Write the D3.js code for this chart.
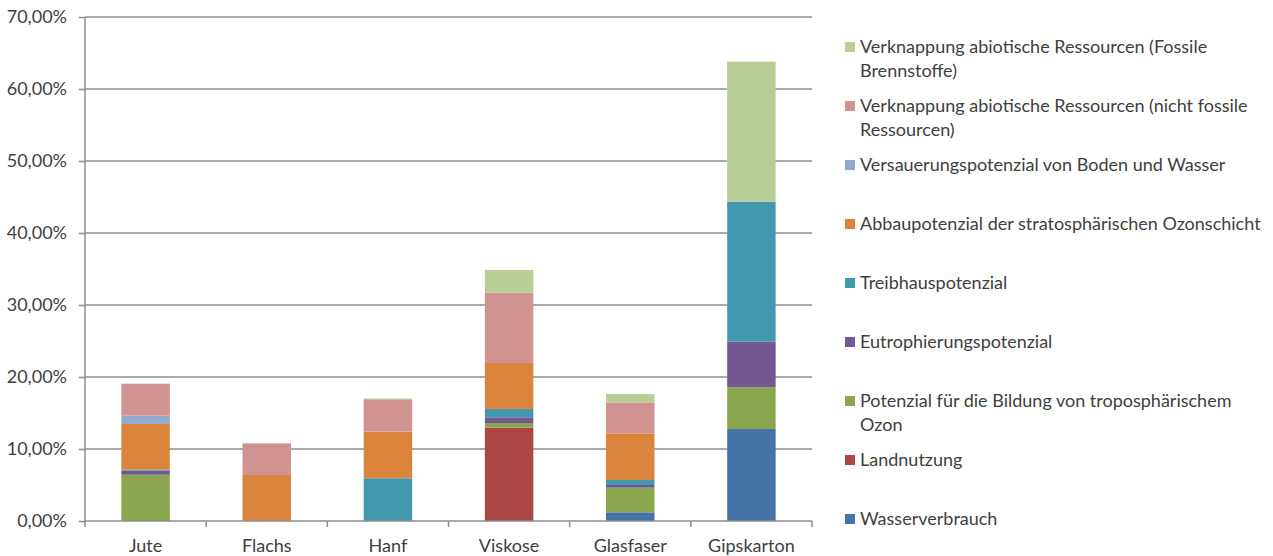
<!DOCTYPE html>
<html>
<head>
<meta charset="utf-8">
<script src="https://cdn.jsdelivr.net/npm/d3@7"></script>
<style>
  html, body { margin: 0; padding: 0; background: #fff; }
  svg { display: block; font-family: Lato, "Open Sans", sans-serif; }
</style>
</head>
<body>
<svg id="chart" width="1273" height="556"></svg>
<script>
// Materials on the x axis
const categories = ["Jute", "Flachs", "Hanf", "Viskose", "Glasfaser", "Gipskarton"];

// Impact categories, stacked from bottom to top (values in %)
const seriesNames = [
  "Wasserverbrauch",
  "Landnutzung",
  "Potenzial für die Bildung von troposphärischem Ozon",
  "Eutrophierungspotenzial",
  "Treibhauspotenzial",
  "Abbaupotenzial der stratosphärischen Ozonschicht",
  "Versauerungspotenzial von Boden und Wasser",
  "Verknappung abiotische Ressourcen (nicht fossile Ressourcen)",
  "Verknappung abiotische Ressourcen (Fossile Brennstoffe)"
];
const seriesColors = ["#4572A7", "#AA4643", "#89A54E", "#71588F", "#4198AF", "#DB843D", "#93A9CF", "#D19392", "#B9CD96"];

const wasserverbrauch = [0,    0,    0,    0,     1.20,  12.78];
const landnutzung     = [0,    0,    0,    12.96, 0,     0];
const ozonBildung     = [6.43, 0,    0,    0.65,  3.43,  5.78];
const eutrophierung   = [0.55, 0,    0,    0.79,  0.37,  6.35];
const treibhaus       = [0.15, 0,    5.93, 1.16,  0.69,  19.44];
const ozonAbbau       = [6.35, 6.39, 6.48, 6.39,  6.48,  0];
const versauerung     = [1.15, 0,    0,    0,     0,     0];
const nichtFossil     = [4.44, 4.39, 4.50, 9.77,  4.30,  0];
const fossil          = [0,    0.05, 0.10, 3.15,  1.16,  19.45];

const seriesValues = [wasserverbrauch, landnutzung, ozonBildung, eutrophierung, treibhaus,
                      ozonAbbau, versauerung, nichtFossil, fossil];

const yTicks = [0, 10, 20, 30, 40, 50, 60, 70];

const svg = d3.select("#chart");
const margin = { left: 85, right: 461, top: 17, bottom: 35 };
const W = 1273, H = 556;
const plotW = W - margin.left - margin.right;
const plotH = H - margin.top - margin.bottom;
const fontSize = "18px";

const x = d3.scaleBand().domain(categories).range([margin.left, margin.left + plotW]).paddingInner(0.6).paddingOuter(0.3);
const xEdges = d3.scaleBand().domain(categories).range([margin.left, margin.left + plotW]).padding(0);
const y = d3.scaleLinear().domain([0, 70]).range([margin.top + plotH, margin.top]);

const gridColor = "#8E8E8E";
const textColor = "#404040";

// Horizontal gridlines
svg.append("g").selectAll("line").data(yTicks.filter(d => d > 0)).join("line")
  .attr("x1", margin.left).attr("x2", margin.left + plotW)
  .attr("y1", d => y(d)).attr("y2", d => y(d))
  .attr("stroke", gridColor).attr("stroke-width", 1.5);

// Stacked data
const table = categories.map((c, i) => {
  const row = { category: c };
  seriesNames.forEach((s, k) => row[s] = seriesValues[k][i]);
  return row;
});
const stacked = d3.stack().keys(seriesNames)(table);

svg.append("g").selectAll("g").data(stacked).join("g")
  .attr("fill", (d, i) => seriesColors[i])
  .selectAll("rect").data(d => d).join("rect")
  .attr("x", d => x(d.data.category))
  .attr("width", x.bandwidth())
  .attr("y", d => y(d[1]))
  .attr("height", d => Math.max(0, y(d[0]) - y(d[1])));

// Y axis
const yAxis = d3.axisLeft(y).tickValues(yTicks).tickSize(6).tickPadding(12)
  .tickFormat(d => d3.format(".2f")(d).replace(".", ",") + "%");
const gy = svg.append("g").attr("transform", `translate(${margin.left},0)`).call(yAxis);
gy.select(".domain").attr("stroke", gridColor).attr("stroke-width", 1.5).attr("d", `M0,${y(0)}V${y(70)}`);
gy.selectAll(".tick line").attr("stroke", gridColor).attr("stroke-width", 1.5);
gy.selectAll(".tick text").attr("fill", textColor).style("font-size", fontSize).style("font-family", "Lato, sans-serif");

// X axis with tick marks at category boundaries
const gx = svg.append("g").attr("transform", `translate(0,${y(0)})`);
gx.append("line").attr("x1", margin.left).attr("x2", margin.left + plotW)
  .attr("stroke", gridColor).attr("stroke-width", 1.5);
const edges = categories.map(c => xEdges(c)).concat([margin.left + plotW]);
gx.selectAll("line.edge").data(edges).join("line").attr("class", "edge")
  .attr("x1", d => d).attr("x2", d => d).attr("y1", 0).attr("y2", 6)
  .attr("stroke", gridColor).attr("stroke-width", 1.5);
gx.selectAll("text").data(categories).join("text")
  .attr("x", d => x(d) + x.bandwidth() / 2).attr("y", 31)
  .attr("text-anchor", "middle").attr("fill", textColor)
  .style("font-size", fontSize).text(d => d);

// Legend, top entry is the top stack segment
const legendX = 845, legendY0 = 47, legendStep = 59, lineH = 24, maxTextW = 410;
const legend = svg.append("g");
const order = d3.range(seriesNames.length).reverse();
order.forEach((k, j) => {
  const g = legend.append("g").attr("transform", `translate(${legendX},${legendY0 + j * legendStep})`);
  g.append("rect").attr("x", 0).attr("y", -5).attr("width", 10).attr("height", 10).attr("fill", seriesColors[k]);
  const t = g.append("text").attr("x", 15).attr("y", 6).attr("fill", textColor).style("font-size", fontSize);
  // word wrap
  const words = seriesNames[k].split(" ");
  let line = [];
  let tspan = t.append("tspan").attr("x", 15).attr("dy", 0);
  words.forEach(w => {
    line.push(w);
    tspan.text(line.join(" "));
    if (tspan.node().getComputedTextLength() > maxTextW && line.length > 1) {
      line.pop();
      tspan.text(line.join(" "));
      line = [w];
      tspan = t.append("tspan").attr("x", 15).attr("dy", lineH).text(w);
    }
  });
});
</script>
</body>
</html>
